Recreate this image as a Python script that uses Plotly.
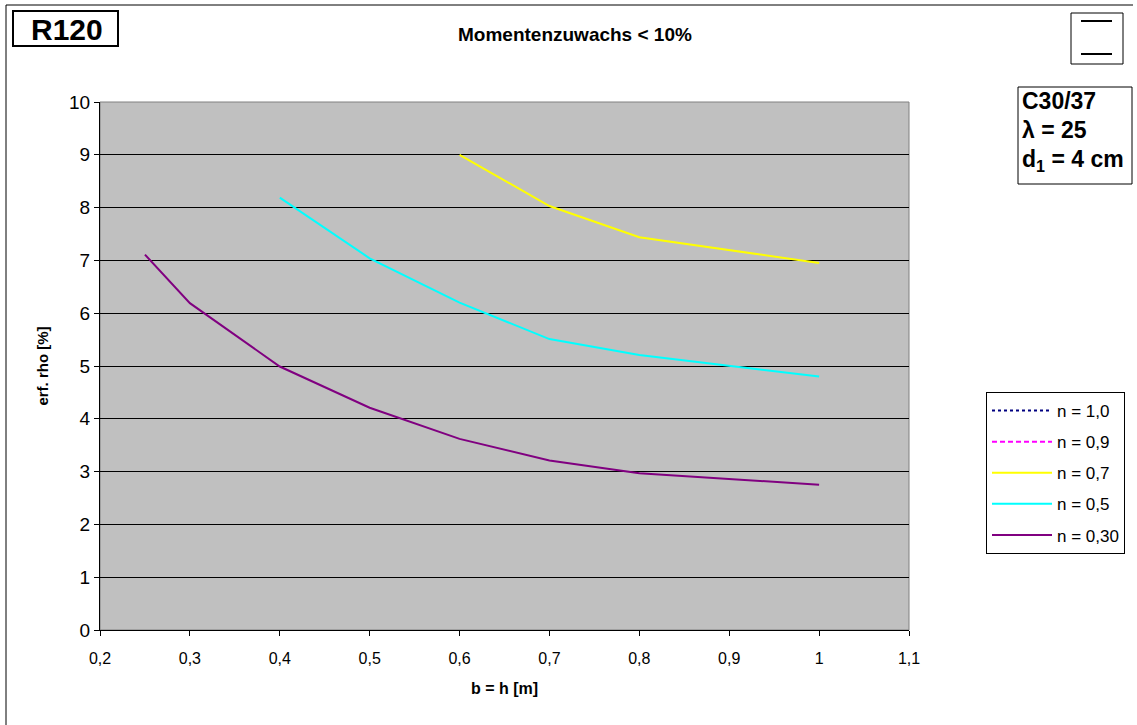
import plotly.graph_objects as go

# Cross-section size b = h [m] and required reinforcement ratio [%]
series_names = ["n = 1,0", "n = 0,9", "n = 0,7", "n = 0,5", "n = 0,30"]

# n = 1,0 and n = 0,9 lie above the plotted range (no values shown)
bh_n10 = [None]
rho_n10 = [None]
bh_n09 = [None]
rho_n09 = [None]

bh_n07 = [0.6, 0.7, 0.8, 0.9, 1.0]
rho_n07 = [9.0, 8.03, 7.44, 7.2, 6.95]

bh_n05 = [0.4, 0.5, 0.6, 0.7, 0.8, 0.9, 1.0]
rho_n05 = [8.19, 7.04, 6.2, 5.51, 5.21, 5.0, 4.8]

bh_n03 = [0.25, 0.3, 0.4, 0.5, 0.6, 0.7, 0.8, 1.0]
rho_n03 = [7.11, 6.19, 4.99, 4.21, 3.62, 3.21, 2.97, 2.75]

FONT = "Liberation Sans, Arial, sans-serif"

styles = [
    dict(color="#000080", width=2, dash="3px,3px"),
    dict(color="#FF00FF", width=2, dash="5px,3px"),
    dict(color="#FFFF00", width=2),
    dict(color="#00FFFF", width=2),
    dict(color="#800080", width=2),
]
xs = [bh_n10, bh_n09, bh_n07, bh_n05, bh_n03]
ys = [rho_n10, rho_n09, rho_n07, rho_n05, rho_n03]

fig = go.Figure()
for i, (name, x, y, st) in enumerate(zip(series_names, xs, ys, styles)):
    fig.add_trace(go.Scatter(
        x=x, y=y, name=name, mode="lines", line=st,
        legendgroup=f"g{i}", showlegend=True,
    ))

W, H = 1137, 725
L, R, T, B = 100, 228, 102, 95
PW, PH = W - L - R, H - T - B


def px(xpix):
    return (xpix - L) / PW


def py(ypix):
    return (H - B - ypix) / PH


shapes = [
    # outer frame
    dict(type="line", xref="paper", yref="paper", x0=px(6), x1=px(1133), y0=py(5), y1=py(5),
         line=dict(color="black", width=1)),
    dict(type="line", xref="paper", yref="paper", x0=px(6), x1=px(6), y0=py(5), y1=py(730),
         line=dict(color="black", width=1)),
    # plot area border
    dict(type="rect", xref="paper", yref="paper", x0=0, x1=1, y0=0, y1=1,
         line=dict(color="#808080", width=1), layer="below"),
    # R120 box
    dict(type="rect", xref="paper", yref="paper", x0=px(13), x1=px(118), y0=py(11), y1=py(46),
         line=dict(color="black", width=2)),
    # symbol box top right
    dict(type="rect", xref="paper", yref="paper", x0=px(1071), x1=px(1123), y0=py(13), y1=py(64),
         line=dict(color="black", width=1)),
    dict(type="line", xref="paper", yref="paper", x0=px(1081), x1=px(1112), y0=py(21), y1=py(21),
         line=dict(color="black", width=2)),
    dict(type="line", xref="paper", yref="paper", x0=px(1081), x1=px(1112), y0=py(54), y1=py(54),
         line=dict(color="black", width=2)),
    # material box
    dict(type="rect", xref="paper", yref="paper", x0=px(1018), x1=px(1132), y0=py(87), y1=py(184),
         line=dict(color="black", width=1)),
]

annotations = [
    dict(text="<b>Momentenzuwachs < 10%</b>", x=px(575), y=py(35), xref="paper", yref="paper",
         showarrow=False, font=dict(family=FONT, size=19, color="black"),
         xanchor="center", yanchor="middle"),
    dict(text="<b>R120</b>", x=px(67), y=py(29), xref="paper", yref="paper",
         showarrow=False, font=dict(family=FONT, size=30, color="black"),
         xanchor="center", yanchor="middle"),
    dict(text="<b>C30/37</b>", x=px(1020), y=py(101), xref="paper", yref="paper",
         showarrow=False, font=dict(family=FONT, size=23, color="black"),
         xanchor="left", yanchor="middle"),
    dict(text="<b>λ = 25</b>", x=px(1020), y=py(130), xref="paper", yref="paper",
         showarrow=False, font=dict(family=FONT, size=23, color="black"),
         xanchor="left", yanchor="middle"),
    dict(text="<b>d<sub>1</sub> = 4 cm</b>", x=px(1020), y=py(160), xref="paper", yref="paper",
         showarrow=False, font=dict(family=FONT, size=23, color="black"),
         xanchor="left", yanchor="middle"),
]

fig.update_layout(
    width=W, height=H,
    margin=dict(l=L, r=R, t=T, b=B, autoexpand=False),
    paper_bgcolor="white",
    plot_bgcolor="#C0C0C0",
    separators=", ",
    font=dict(family=FONT, size=16, color="black"),
    showlegend=True,
    legend=dict(
        x=px(986), y=py(392), xanchor="left", yanchor="top",
        bordercolor="black", borderwidth=1, bgcolor="white",
        font=dict(family=FONT, size=17, color="black"),
        tracegroupgap=6, itemwidth=60, traceorder="grouped",
    ),
    xaxis=dict(
        range=[0.2, 1.1], dtick=0.1, tick0=0.2,
        showgrid=False, zeroline=False,
        showline=True, linecolor="black", linewidth=1,
        ticks="outside", ticklen=5, tickcolor="black",
        ticklabelstandoff=9,
        tickfont=dict(family=FONT, size=16),
        title=dict(text="<b>b = h [m]</b>", font=dict(family=FONT, size=16), standoff=16),
    ),
    yaxis=dict(
        range=[0, 10], dtick=1,
        showgrid=True, gridcolor="black", gridwidth=1,
        zeroline=False,
        showline=True, linecolor="black", linewidth=1,
        ticks="outside", ticklen=5, tickcolor="black",
        tickfont=dict(family=FONT, size=19),
        title=dict(text="<b>erf. rho [%]</b>", font=dict(family=FONT, size=15), standoff=16),
    ),
    shapes=shapes,
    annotations=annotations,
)

fig.write_html("out.html")
